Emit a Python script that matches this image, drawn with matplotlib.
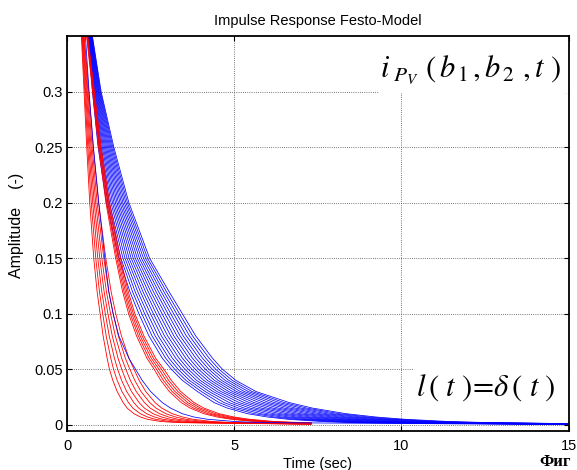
import matplotlib
matplotlib.use('Agg')
import matplotlib.pyplot as plt
import numpy as np
from matplotlib.patches import Rectangle

# ---------------- data ----------------
# amplitude levels at which the crossing times of each curve were read
levels = [0.38, 0.35, 0.30, 0.25, 0.20, 0.15, 0.12, 0.10, 0.08, 0.06, 0.05,
          0.04, 0.03, 0.02, 0.015, 0.010, 0.007, 0.005, 0.003, 0.002]

# red family: fastest and slowest curve (time in sec at each level)
red_first_t = [0.40, 0.43, 0.51, 0.59, 0.68, 0.80, 0.90, 0.99, 1.08, 1.20, 1.27,
               1.37, 1.50, 1.68, 1.80, 2.00, 2.20, 2.40, 2.80, 3.30]
red_last_t = [0.58, 0.62, 0.82, 1.02, 1.27, 1.60, 1.83, 2.03, 2.30, 2.65, 2.90,
              3.12, 3.40, 3.80, 4.10, 4.55, 5.00, 5.45, 6.20, 7.00]
red_end_time = 7.3
red_first_end_amp = 0.0005
red_last_end_amp = 0.0018
# relative position of each red curve between fastest and slowest
red_positions = [0.0, 0.075, 0.15, 0.225, 0.30, 0.375, 0.45,
                 0.82, 0.865, 0.91, 0.955, 1.0]

# blue family: fastest and slowest curve
blue_first_t = [0.57, 0.63, 0.76, 0.93, 1.18, 1.55, 1.88, 2.15, 2.45, 2.85, 3.12,
                3.45, 3.90, 4.40, 4.80, 5.40, 6.00, 6.60, 7.60, 8.50]
blue_last_t = [0.68, 0.76, 1.02, 1.40, 1.85, 2.47, 3.05, 3.45, 3.85, 4.35, 4.65,
               5.05, 5.65, 6.65, 7.35, 8.35, 9.25, 10.10, 11.40, 12.60]
blue_end_time = 15.0
blue_first_end_amp = 0.0003
blue_last_end_amp = 0.0011
blue_positions = [0.0, 0.067, 0.133, 0.2, 0.267, 0.333, 0.4, 0.467, 0.533,
                  0.6, 0.667, 0.733, 0.8, 0.867, 0.933, 1.0]

# single blue curve lying among the red ones
blue_single_t = [0.50, 0.55, 0.66, 0.79, 0.95, 1.13, 1.25, 1.38, 1.55, 1.85, 2.05,
                 2.25, 2.50, 2.85, 3.10, 3.45, 3.80, 4.20, 5.00, 5.80]
blue_single_end_amp = 0.0002

xticks = [0, 5, 10, 15]
xticklabels = ['0', '5', '10', '15']
yticks = [0, 0.05, 0.10, 0.15, 0.20, 0.25, 0.30]
yticklabels = ['0', '0.05', '0.1', '0.15', '0.2', '0.25', '0.3']

# ---------------- figure ----------------
plt.rcParams['font.family'] = ['Liberation Sans', 'DejaVu Sans']
plt.rcParams['mathtext.fontset'] = 'stix'

fig = plt.figure(figsize=(5.77, 4.70), dpi=100)
ax = fig.add_axes([0.11612, 0.08362, 0.86915, 0.83978])

lv = np.array(levels)


def family_curve(t_first, t_last, end_t, a_first, a_last, p):
    tf = np.array(t_first)
    tl = np.array(t_last)
    t = tf + p * (tl - tf)
    a_end = a_first + p * (a_last - a_first)
    return np.append(t, end_t), np.append(lv, a_end)


for p in blue_positions:
    x, y = family_curve(blue_first_t, blue_last_t, blue_end_time,
                        blue_first_end_amp, blue_last_end_amp, p)
    ax.plot(x, y, color='#0000ff', lw=0.55, zorder=2)

for p in red_positions:
    x, y = family_curve(red_first_t, red_last_t, red_end_time,
                        red_first_end_amp, red_last_end_amp, p)
    ax.plot(x, y, color='#ff0000', lw=0.6, zorder=2.1)

ax.plot(np.append(blue_single_t, blue_end_time),
        np.append(lv, blue_single_end_amp), color='#0000ff', lw=0.55, zorder=2.2)

ax.set_xlim(0, 15)
ax.set_ylim(-0.0053, 0.35)
ax.set_xticks(xticks)
ax.set_xticklabels(xticklabels)
ax.set_yticks(yticks)
ax.set_yticklabels(yticklabels)

ax.grid(True, linestyle=(0, (1, 1.6)), color='0.3', linewidth=0.6)
ax.tick_params(direction='in', length=3.5, width=0.8, top=True, right=True,
               labelsize=10.5, colors='black')
ax.tick_params(axis='x', pad=6)
ax.tick_params(axis='y', pad=3)
for s in ax.spines.values():
    s.set_linewidth(1.3)
    s.set_color('black')

ax.set_title('Impulse Response Festo-Model', fontsize=10.5, pad=8)
ax.set_xlabel('Time (sec)', fontsize=10.5, labelpad=3)
ax.set_ylabel('Amplitude    (-)', fontsize=11.5)
ax.yaxis.set_label_coords(-0.086, 0.521)

# white boxes behind the formula texts
ax.add_patch(Rectangle((0.622, 0.856), 0.378, 0.144, transform=ax.transAxes,
                       facecolor='white', edgecolor='none', zorder=1.6))
ax.add_patch(Rectangle((0.692, 0.065), 0.308, 0.109, transform=ax.transAxes,
                       facecolor='white', edgecolor='none', zorder=1.6))

ax.text(0.805, 0.914, r'$i_{\ P_V}\ (\,b_{\,\mathit{1}}\,,b_{\,\mathit{2}}\ ,t\ )$',
        transform=ax.transAxes, ha='center', va='center', fontsize=22, zorder=4)
ax.text(0.836, 0.108, r'$l\,(\ t\ )\!=\!\delta\,(\ t\ )$',
        transform=ax.transAxes, ha='center', va='center', fontsize=22, zorder=4)

fig.text(0.99, 0.009, 'Фиг', family=['Liberation Serif', 'DejaVu Serif'],
         fontweight='bold', fontsize=12, ha='right', va='baseline')

fig.savefig('out.png', dpi=100)
